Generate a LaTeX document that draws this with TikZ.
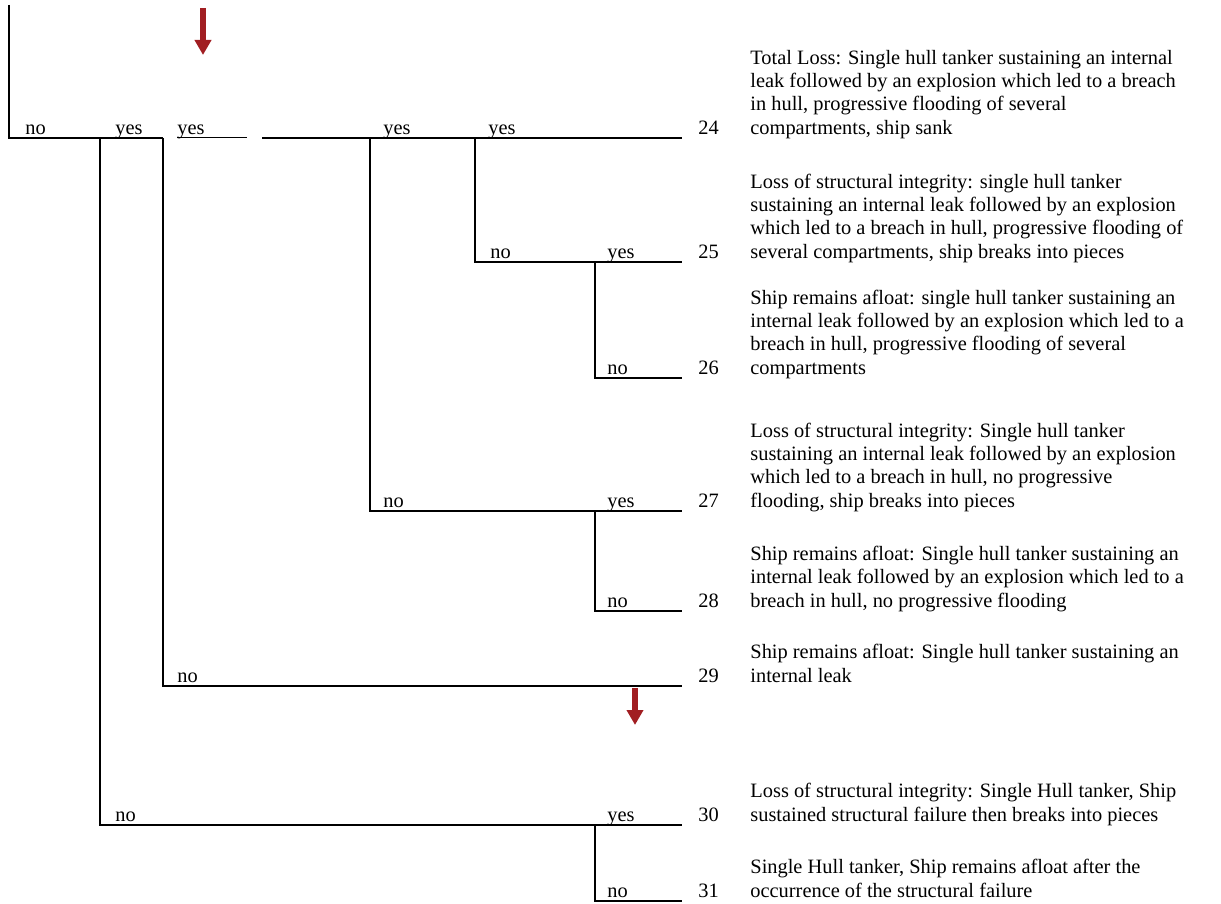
\documentclass[tikz,border=0pt]{standalone}
\usepackage{fontspec}
\setmainfont{Liberation Serif}
\usetikzlibrary{arrows.meta,positioning}
\definecolor{evred}{HTML}{A11E22}
\definecolor{evline}{HTML}{000000}
\newcommand{\outcome}[1]{\parbox[b]{300pt}{\raggedright #1}}

\begin{document}
\begin{tikzpicture}[x=0.5pt,y=-0.5pt,
  branch/.style={evline,line width=1.2pt},
  lbl/.style={anchor=base west,inner sep=0pt,font=\fontsize{10.2pt}{11.6pt}\selectfont},
  flow/.style={evred,line width=2.6pt,-{Triangle[width=8pt,length=7.5pt]}}]
\useasboundingbox (0,0) rectangle (1221,904);
% row ends
\foreach \n/\y in {24/138,25/262,26/378,27/511,28/611,29/686,30/825,31/901}
  \coordinate (end\n) at (682,\y);
\coordinate (top) at (9,5);
\coordinate (root) at (9,138);
\coordinate (s1) at (100,138);
\coordinate (s2) at (163,138);
\coordinate (s3) at (370,138);
\coordinate (s4) at (475,138);
\coordinate (gap) at (262,138);
\coordinate (k25) at (595,262);
\coordinate (k27) at (595,511);
\coordinate (k30) at (595,825);
% tree
\draw[branch] (top) -- (root) -- (s2);
\draw[branch] (gap) -- (end24);
\draw[branch] (s1) -- (s1 |- end30) -- (end30);
\draw[branch] (s2) -- (s2 |- end29) -- (end29);
\draw[branch] (s3) -- (s3 |- end27) -- (end27);
\draw[branch] (s4) -- (s4 |- end25) -- (end25);
\draw[branch] (k25) -- (k25 |- end26) -- (end26);
\draw[branch] (k27) -- (k27 |- end28) -- (end28);
\draw[branch] (k30) -- (k30 |- end31) -- (end31);
% branch labels
\foreach \nm/\x/\e/\t in {b1/25/24/no,b2/115/24/yes,b4/383/24/yes,b5/488/24/yes,
  b6/490/25/no,b7/607/25/yes,b8/607/26/no,b9/383/27/no,b10/607/27/yes,
  b11/607/28/no,b12/177/29/no,b13/115/30/no,b14/607/30/yes,b15/607/31/no}
  \node[lbl] (\nm) at ([yshift=2pt]end\e -| \x,0) {\t};
\node[lbl] (b3) at ([yshift=2pt]end24 -| 177,0) {yes};
\draw[evline,line width=0.6pt] ([yshift=-1.6pt]b3.base west) -- ++(70,0);
% outcome numbers
\foreach \n in {24,...,31}
  \node[lbl] (n\n) at ([yshift=2pt]end\n -| 698,0) {\n};
% outcome texts
\node[lbl] (d24) at (n24.base -| 750,0) {\outcome{Total Loss: Single hull tanker sustaining an internal\\
  leak followed by an explosion which led to a breach\\ in hull, progressive flooding of several\\ compartments, ship sank}};
\node[lbl] (d25) at (n25.base -| 750,0) {\outcome{Loss of structural integrity: single hull tanker\\
  sustaining an internal leak followed by an explosion\\ which led to a breach in hull, progressive flooding of\\ several compartments, ship breaks into pieces}};
\node[lbl] (d26) at (n26.base -| 750,0) {\outcome{Ship remains afloat: single hull tanker sustaining an\\
  internal leak followed by an explosion which led to a\\ breach in hull, progressive flooding of several\\ compartments}};
\node[lbl] (d27) at (n27.base -| 750,0) {\outcome{Loss of structural integrity: Single hull tanker\\
  sustaining an internal leak followed by an explosion\\ which led to a breach in hull, no progressive\\ flooding, ship breaks into pieces}};
\node[lbl] (d28) at (n28.base -| 750,0) {\outcome{Ship remains afloat: Single hull tanker sustaining an\\
  internal leak followed by an explosion which led to a\\ breach in hull, no progressive flooding}};
\node[lbl] (d29) at (n29.base -| 750,0) {\outcome{Ship remains afloat: Single hull tanker sustaining an\\ internal leak}};
\node[lbl] (d30) at (n30.base -| 750,0) {\outcome{Loss of structural integrity: Single Hull tanker, Ship\\
  sustained structural failure then breaks into pieces}};
\node[lbl] (d31) at (n31.base -| 750,0) {\outcome{Single Hull tanker, Ship remains afloat after the\\
  occurrence of the structural failure}};
% flow arrows
\coordinate (a1s) at (203,8);
\coordinate (a1e) at (203,55);
\coordinate (a2s) at (635,688);
\coordinate (a2e) at (635,725);
\draw[flow] (a1s) -- (a1e);
\draw[flow] (a2s) -- (a2e);
\end{tikzpicture}
\end{document}
